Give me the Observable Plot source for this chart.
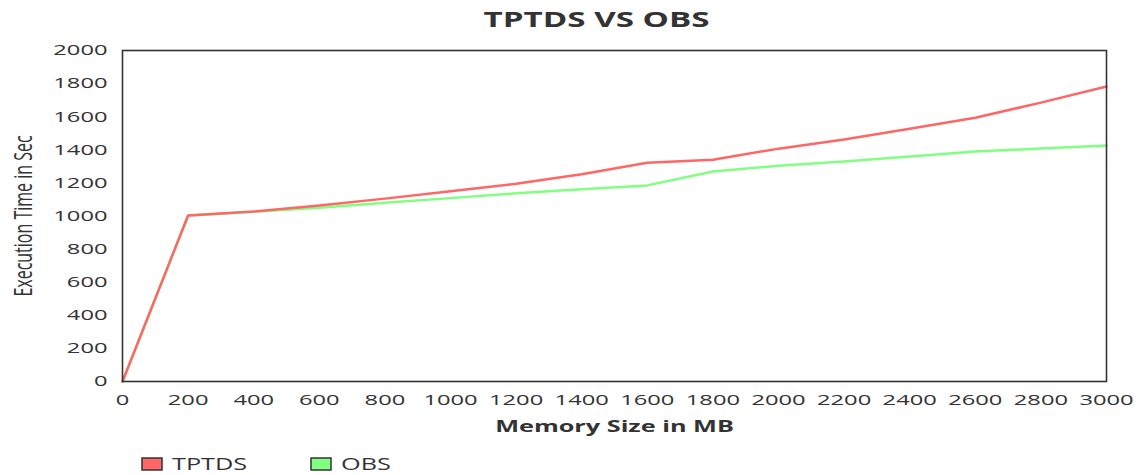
<!DOCTYPE html>
<html>
<head>
<meta charset="utf-8">
<script src="https://cdn.jsdelivr.net/npm/d3@7"></script>
<script src="https://cdn.jsdelivr.net/npm/@observablehq/plot@0.6"></script>
<style>
  body { margin: 0; background: #fff; }
  #chart { width: 1138px; height: 475px; overflow: hidden; }
  svg { font-family: "Open Sans", sans-serif; }
</style>
</head>
<body>
<div id="chart"></div>
<script>
// ---- data ----
const memory = [0, 200, 400, 600, 800, 1000, 1200, 1400, 1600, 1800, 2000, 2200, 2400, 2600, 2800, 3000];
const tptds  = [0, 1003, 1027, 1063, 1105, 1150, 1195, 1252, 1322, 1340, 1407, 1462, 1527, 1594, 1685, 1782];
const obs    = [0, 1003, 1025, 1050, 1080, 1108, 1137, 1162, 1185, 1269, 1304, 1329, 1359, 1389, 1408, 1426];
const seriesNames = ["TPTDS", "OBS"];
const seriesColors = ["#ff6666", "#80ff80"];
const xTicks = [0, 200, 400, 600, 800, 1000, 1200, 1400, 1600, 1800, 2000, 2200, 2400, 2600, 2800, 3000];
const yTicks = [0, 200, 400, 600, 800, 1000, 1200, 1400, 1600, 1800, 2000];
const titleText = "TPTDS VS OBS";
const xLabel = "Memory Size in MB";
const yLabel = "Execution Time in Sec";

// OBS first so TPTDS is drawn on top
const rows = [
  ...memory.map((m, i) => ({memory: m, time: obs[i], series: "OBS"})),
  ...memory.map((m, i) => ({memory: m, time: tptds[i], series: "TPTDS"}))
];

const STRETCH = 1.58;
const textColor = "#333";
const fmt = d3.format("d");

const plot = Plot.plot({
  width: 1138,
  height: 475,
  marginTop: 50,
  marginBottom: 94,
  marginLeft: 122,
  marginRight: 32,
  style: {fontFamily: "Open Sans, sans-serif", fontSize: "15px", color: textColor, background: "#fff", overflow: "visible"},
  x: {domain: [0, 3000]},
  y: {domain: [0, 2000]},
  color: {domain: seriesNames, range: seriesColors},
  marks: [
    Plot.axisX({ticks: xTicks, tickFormat: fmt, tickSize: 0, tickPadding: 13, label: null, fontSize: 15, fill: textColor}),
    Plot.axisY({ticks: yTicks, tickFormat: fmt, tickSize: 0, tickPadding: 15, label: null, fontSize: 15, fill: textColor}),
    Plot.line(rows, {x: "memory", y: "time", z: "series", stroke: "series", strokeWidth: 2.5}),
    Plot.frame({stroke: "#333", strokeWidth: 1.6}),
    Plot.text([xLabel], {frameAnchor: "bottom", dy: 45, lineAnchor: "middle", textAnchor: "middle", fontSize: 16, fontWeight: "bold", fill: textColor}),
    Plot.text([yLabel], {frameAnchor: "left", dx: -99, rotate: -90, lineAnchor: "middle", textAnchor: "middle", fontSize: 16, fill: textColor}),
    Plot.text([titleText], {frameAnchor: "top", dx: -18, dy: -30, lineAnchor: "middle", textAnchor: "middle", fontSize: 21, fontWeight: "bold", fill: textColor})
  ]
});

const svg = d3.select(plot);

// legend
const legendX = [142, 311];
seriesNames.forEach((name, i) => {
  const g = svg.append("g").attr("class", "legend-item").attr("text-anchor", "start");
  g.append("rect")
    .attr("x", legendX[i]).attr("y", 458)
    .attr("width", 20).attr("height", 12)
    .attr("fill", seriesColors[i])
    .attr("stroke", "#333").attr("stroke-width", 1.5);
  g.append("text")
    .attr("transform", `translate(${legendX[i] + 30},470)`)
    .attr("text-anchor", "start")
    .attr("font-size", 16)
    .attr("fill", textColor)
    .text(name);
});

// horizontal stretch of glyphs (the reference is rendered wide)
svg.selectAll("text").each(function () {
  const t = d3.select(this);
  let tr = t.attr("transform");
  if (!tr) {
    const x = +t.attr("x") || 0;
    tr = `translate(${x},0)`;
    t.attr("x", null);
  }
  if (/rotate\(-90\)/.test(tr)) t.attr("transform", tr + ` scale(1,${STRETCH})`);
  else t.attr("transform", tr + ` scale(${STRETCH},1)`);
});

document.getElementById("chart").appendChild(plot);
</script>
</body>
</html>
